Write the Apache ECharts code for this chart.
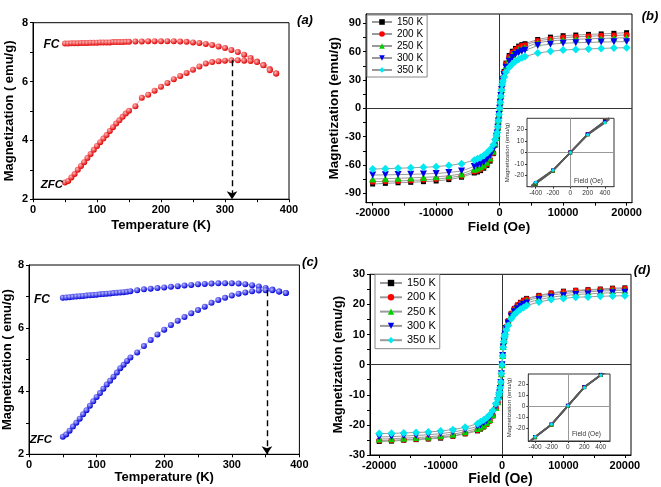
<!DOCTYPE html>
<html><head><meta charset="utf-8">
<script src="https://cdn.jsdelivr.net/npm/echarts@6/dist/echarts.min.js"></script>
<style>html,body{margin:0;padding:0;background:#fff}#c{width:661px;height:487px}</style>
</head><body><div id="c"></div>
<script>
// ---------- data ----------
const temps = [50,55,60,65,70,75,80,85,90,95,100,105,110,115,120,125,130,135,140,145,150,160,170,180,190,200,210,220,230,240,250,260,270,280,290,300,310,320,330,340,350,360,370,380];
const zfcA = [2.57,2.62,2.74,2.86,3.00,3.13,3.26,3.40,3.54,3.68,3.81,3.94,4.06,4.18,4.32,4.45,4.57,4.68,4.80,4.91,5.01,5.16,5.45,5.55,5.69,5.82,5.95,6.08,6.19,6.29,6.40,6.51,6.61,6.66,6.69,6.71,6.72,6.72,6.71,6.70,6.66,6.55,6.38,6.27];
const fcA  = [7.29,7.29,7.30,7.30,7.30,7.31,7.31,7.31,7.32,7.32,7.32,7.33,7.33,7.33,7.33,7.34,7.34,7.34,7.34,7.35,7.35,7.36,7.36,7.37,7.37,7.37,7.37,7.37,7.36,7.35,7.33,7.31,7.28,7.24,7.19,7.14,7.07,7.00,6.91,6.80,6.68,6.56,6.43,6.27];
const zfcC = [2.56,2.63,2.75,2.88,3.00,3.13,3.27,3.40,3.54,3.68,3.82,3.94,4.08,4.21,4.33,4.46,4.59,4.73,4.84,4.96,5.07,5.23,5.43,5.62,5.80,5.95,6.10,6.23,6.35,6.47,6.57,6.68,6.80,6.89,6.96,7.03,7.09,7.13,7.17,7.19,7.20,7.20,7.16,7.11];
const fcC  = [6.96,6.97,6.98,6.99,7.00,7.01,7.02,7.03,7.04,7.05,7.06,7.07,7.08,7.09,7.10,7.11,7.12,7.13,7.14,7.15,7.17,7.20,7.23,7.25,7.27,7.29,7.31,7.33,7.35,7.37,7.39,7.40,7.41,7.42,7.42,7.42,7.41,7.39,7.36,7.32,7.27,7.22,7.16,7.11];
const peakA = [311, 6.72];
const peakC = [352, 7.20];

const loopNames = ['150 K','200 K','250 K','300 K','350 K'];
const fields = [-20000,-18000,-16000,-14000,-12000,-10000,-8000,-6000,-4000,-3500,-3000,-2500,-2000,-1500,-1000,-700,-500,-400,-300,-200,-100,0,100,200,300,400,500,700,1000,1500,2000,2500,3000,3500,4000,6000,8000,10000,12000,14000,16000,18000,20000];
const b150 = [-80.2,-79.5,-78.9,-78.4,-77.7,-77,-75.5,-73,-68.5,-67.5,-66,-63.5,-60.5,-56,-48,-39,-32,-27,-20.5,-14,-7,0,7,14,20.5,27,32,39,48,56,60.5,63.5,66,67.5,68.5,73,75.5,77,77.7,78.4,78.9,79.5,80.2];
const b200 = [-77.7,-77.3,-77,-76.4,-75.8,-75,-73.5,-71.5,-67,-66,-64.5,-62,-59,-54.5,-47,-38,-31.5,-27,-20.5,-14,-7,0,7,14,20.5,27,31.5,38,47,54.5,59,62,64.5,66,67,71.5,73.5,75,75.8,76.4,77,77.3,77.7];
const b250 = [-74.9,-74.5,-74.1,-73.7,-73.2,-72.5,-71.5,-69.5,-64.5,-63.5,-62,-60,-57,-52.5,-45.5,-37,-31,-26.5,-20,-13.5,-7,0,7,13.5,20,26.5,31,37,45.5,52.5,57,60,62,63.5,64.5,69.5,71.5,72.5,73.2,73.7,74.1,74.5,74.9];
const b300 = [-70.7,-70.5,-70.2,-69.9,-69.5,-69,-68,-66.5,-61.5,-60.5,-59,-57,-54,-50,-43.5,-36,-30,-26,-20,-13.5,-6.5,0,6.5,13.5,20,26,30,36,43.5,50,54,57,59,60.5,61.5,66.5,68,69,69.5,69.9,70.2,70.5,70.7];
const b350 = [-64.3,-64,-63.5,-63,-62.5,-61.8,-60.5,-58.7,-55,-53.5,-52,-50,-47,-43.5,-38.5,-33,-29,-25.5,-19.5,-13,-6.5,0,6.5,13,19.5,25.5,29,33,38.5,43.5,47,50,52,53.5,55,58.7,60.5,61.8,62.5,63,63.5,64,64.3];
const d150 = [-25.5,-25.4,-25.1,-24.9,-24.7,-24.4,-23.8,-23,-22,-21.4,-20.7,-19.8,-18.7,-17,-14.5,-12.5,-10.5,-9.5,-8,-6,-3,0,3,6,8,9.5,10.5,12.5,14.5,17,18.7,19.8,20.7,21.4,22,23,23.8,24.4,24.7,24.9,25.1,25.4,25.5];
const d200 = [-25.2,-25.1,-24.9,-24.7,-24.5,-24.1,-23.6,-22.8,-21.7,-21.2,-20.5,-19.7,-18.6,-17,-14.5,-12.5,-10.5,-9.5,-8,-6,-3,0,3,6,8,9.5,10.5,12.5,14.5,17,18.6,19.7,20.5,21.2,21.7,22.8,23.6,24.1,24.5,24.7,24.9,25.1,25.2];
const d250 = [-24.7,-24.6,-24.4,-24.2,-24.0,-23.6,-23.1,-22.3,-21.2,-20.7,-20.1,-19.3,-18.2,-16.6,-14.2,-12.3,-10.5,-9.5,-8,-6,-3,0,3,6,8,9.5,10.5,12.3,14.2,16.6,18.2,19.3,20.1,20.7,21.2,22.3,23.1,23.6,24.0,24.2,24.4,24.6,24.7];
const d300 = [-24.0,-23.9,-23.7,-23.5,-23.3,-22.9,-22.4,-21.6,-20.5,-20,-19.4,-18.6,-17.6,-16.1,-13.8,-12,-10.3,-9.4,-7.9,-5.9,-3,0,3,5.9,7.9,9.4,10.3,12,13.8,16.1,17.6,18.6,19.4,20,20.5,21.6,22.4,22.9,23.3,23.5,23.7,23.9,24.0];
const d350 = [-22.9,-22.8,-22.7,-22.5,-22.4,-22.0,-21.6,-20.8,-19.6,-19.0,-18.4,-17.6,-16.6,-15.2,-13,-11.5,-10,-9.2,-7.7,-5.8,-2.9,0,2.9,5.8,7.7,9.2,10,11.5,13,15.2,16.6,17.6,18.4,19.0,19.6,20.8,21.6,22.0,22.4,22.5,22.7,22.8,22.9];
const insetFieldsB = [-450,-400,-200,0,200,400,450];
const ib150 = [-30.5,-27.5,-16,0,16,27.5,30.5];
const ib200 = [-30.3,-27.3,-16,0,16,27.3,30.3];
const ib250 = [-30,-27,-15.8,0,15.8,27,30];
const ib300 = [-29.8,-26.8,-15.7,0,15.7,26.8,29.8];
const ib350 = [-29,-26,-15.5,0,15.5,26,29];
const insetFieldsD = [-460,-400,-200,0,200,400,460];
const id150 = [-32.5,-28.6,-17.2,0,17.2,28.2,31];
const id200 = [-32.4,-28.5,-17.1,0,17.1,28.1,30.9];
const id250 = [-32.3,-28.4,-17,0,17,28,30.8];
const id300 = [-32.2,-28.3,-16.9,0,16.9,27.9,30.7];
const id350 = [-32,-28.2,-16.8,0,16.8,27.8,30.5];

const tempLabels = [0,100,200,300,400];
const tempTicks = [0,50,100,150,200,250,300,350,400];
const mLabels = [2,4,6,8];
const mTicks = [2,3,4,5,6,7,8];
const fieldLabels = [-20000,-10000,0,10000,20000];
const fieldTicks = [-20000,-15000,-10000,-5000,0,5000,10000,15000,20000];
const bLabels = [-90,-60,-30,0,30,60,90];
const bTicks = [-90,-75,-60,-45,-30,-15,0,15,30,45,60,75,90];
const dLabels = [-30,-20,-10,0,10,20,30];
const dTicks = [-30,-25,-20,-15,-10,-5,0,5,10,15,20,25,30];
const inXLabels = [-400,-200,0,200,400];
const inYLabels = [-20,-10,0,10,20];

// ---------- style ----------
const FF = '"Liberation Sans", Arial, sans-serif';
const cols = ['#000000','#ff0000','#00d000','#0000f0','#00e8f0'];
const syms = ['rect','circle','triangle','triangle','diamond'];
const rots = [0,0,0,180,0];
const sizes = [5,6,7,7,8];
const zip = (xs, ys) => xs.map((x,i)=>[x, ys[i]]);
const plain = (v) => String(v);

function mainAxis(gi, min, max, labels, ticks, name, gap, nameSize, labSize){
  return {
    type:'value', gridIndex:gi, min:min, max:max,
    name:name, nameLocation:'middle', nameGap:gap,
    nameTextStyle:{fontFamily:FF, fontWeight:'bold', fontSize:nameSize, color:'#000'},
    axisLine:{show:true, onZero:false, lineStyle:{color:'#000', width:1}},
    axisTick:{show:true, inside:false, length:3, customValues:ticks, lineStyle:{color:'#000', width:1}},
    axisLabel:{fontFamily:FF, fontWeight:'bold', fontSize:labSize, color:'#000', margin:5, customValues:labels, formatter:plain},
    splitLine:{show:false}
  };
}
function insetAxis(gi, min, max, labels, name){
  return {
    type:'value', gridIndex:gi, min:min, max:max,
    name:name, nameLocation:'middle', nameGap:14,
    nameTextStyle:{fontFamily:FF, fontSize:6, color:'#333'},
    axisLine:{show:true, onZero:false, lineStyle:{color:'#333', width:1}},
    axisTick:{show:true, inside:false, length:2, customValues:labels, lineStyle:{color:'#333'}},
    axisLabel:{fontFamily:FF, fontSize:6.5, color:'#333', margin:3, customValues:labels, formatter:plain},
    splitLine:{show:false}
  };
}
const sphere = (light, dark) => ({type:'radial', x:0.38, y:0.35, r:0.65, colorStops:[{offset:0, color:light},{offset:1, color:dark}]});
function tSeries(ax, data, light, dark, lineCol, mark){
  const s = {type:'line', xAxisIndex:ax, yAxisIndex:ax, data:data, symbol:'circle', symbolSize:6,
    itemStyle:{color:sphere(light,dark)}, lineStyle:{color:lineCol, width:0.8}, emphasis:{disabled:true}, z:3};
  if (mark) s.markLine = {silent:true, symbol:['none','arrow'], symbolSize:8, label:{show:false},
    lineStyle:{color:'#000', width:1.4, type:[6,4]}, data:[[{coord:mark},{coord:[mark[0], 2]}]]};
  return s;
}
const zeroLines = (col) => ({silent:true, symbol:'none', label:{show:false}, lineStyle:{color:col, width:1, type:'solid'}, data:[{xAxis:0},{yAxis:0}]});

const series = [];
series.push(tSeries(0, zip(temps, fcA), '#ffb8b8', '#e00000', '#f09090'));
series.push(tSeries(0, zip(temps, zfcA), '#ffb8b8', '#e00000', '#f09090', peakA));
series.push(tSeries(2, zip(temps, fcC), '#b8b8ff', '#0000d8', '#9090f0'));
series.push(tSeries(2, zip(temps, zfcC), '#b8b8ff', '#0000d8', '#9090f0', peakC));
const bSets = [b150,b200,b250,b300,b350];
const dSets = [d150,d200,d250,d300,d350];
const ibSets = [ib150,ib200,ib250,ib300,ib350];
const idSets = [id150,id200,id250,id300,id350];
[[1,bSets,fields],[3,dSets,fields]].forEach(([ax, sets, xs]) => {
  sets.forEach((ys, i) => {
    const s = {type:'line', name:loopNames[i], xAxisIndex:ax, yAxisIndex:ax, data:zip(xs, ys),
      symbol:syms[i], symbolRotate:rots[i], symbolSize:sizes[i], showAllSymbol:true,
      itemStyle:{color:cols[i]}, lineStyle:{color:'#9a9a9a', width:1}, emphasis:{disabled:true}, z:3+i};
    if (i===0) s.markLine = zeroLines('#333');
    series.push(s);
  });
});
[[4,ibSets,insetFieldsB],[5,idSets,insetFieldsD]].forEach(([ax, sets, xs]) => {
  sets.forEach((ys, i) => {
    const s = {type:'line', name:'inset'+ax+'_'+i, xAxisIndex:ax, yAxisIndex:ax, data:zip(xs, ys),
      symbol:(v)=> Math.abs(v[0])>420 ? 'none' : syms[i], symbolRotate:rots[i], symbolSize:4, showAllSymbol:true,
      itemStyle:{color:cols[i]}, lineStyle:{color:'#5a5a5a', width:1.6}, emphasis:{disabled:true}, z:10+i};
    if (i===0) s.markLine = zeroLines('#999');
    series.push(s);
  });
});

const legendBase = {orient:'vertical', data:loopNames, backgroundColor:'#fff', borderColor:'#888', borderWidth:1,
  selectedMode:false, textStyle:{fontFamily:FF, color:'#000'}};

const txt = (x, y, t, size, style) => ({type:'text', x:x, y:y, z:100,
  style:{text:t, fontFamily:FF, fontSize:size, fontWeight:style.w||'normal', fontStyle:style.i?'italic':'normal', fill:style.c||'#000', align:'center', verticalAlign:'middle'}});

const option = {
  animation:false,
  backgroundColor:'#fff',
  grid:[
    {left:33, top:22.7, width:256, height:176.5, show:true, borderColor:'#000', borderWidth:1},
    {left:366, top:14, width:266, height:188.7, show:true, borderColor:'#000', borderWidth:1},
    {left:26.7, top:265, width:272.7, height:189.3, show:true, borderColor:'#000', borderWidth:1},
    {left:370, top:274.3, width:261, height:180.7, show:true, borderColor:'#000', borderWidth:1},
    {left:527, top:118.3, width:87, height:68.4, show:true, borderColor:'#333', borderWidth:1, backgroundColor:'#fff', z:5},
    {left:528.3, top:374, width:81.7, height:67, show:true, borderColor:'#333', borderWidth:1, backgroundColor:'#fff', z:5}
  ],
  xAxis:[
    mainAxis(0, 0, 400, tempLabels, tempTicks, 'Temperature (K)', 20, 13, 11),
    mainAxis(1, -21050, 20850, fieldLabels, fieldTicks, 'Field (Oe)', 18, 13.5, 11),
    mainAxis(2, 0, 400, tempLabels, tempTicks, 'Temperature (K)', 16, 13, 11),
    mainAxis(3, -21500, 21000, fieldLabels, fieldTicks, 'Field (Oe)', 14, 14, 11),
    insetAxis(4, -500, 505, inXLabels, ''),
    insetAxis(5, -482, 513, inXLabels, '')
  ],
  yAxis:[
    mainAxis(0, 2, 8, mLabels, mTicks, 'Magnetization ( emu/g)', 17, 13, 11),
    mainAxis(1, -100, 100, bLabels, bTicks, 'Magnetization (emu/g)', 22, 13.5, 11),
    mainAxis(2, 2, 8, mLabels, mTicks, 'Magnetization ( emu/g)', 13, 13, 11),
    mainAxis(3, -30, 30, dLabels, dTicks, 'Magnetization (emu/g)', 24, 13, 11),
    insetAxis(4, -30, 30, inYLabels, 'Magnetization (emu/g)'),
    insetAxis(5, -32, 29, inYLabels, 'Magnetization (emu/g)')
  ],
  legend:[
    Object.assign({}, legendBase, {left:367, top:15, itemGap:2, itemWidth:20, itemHeight:7, padding:[2,4,2,4], textStyle:{fontFamily:FF, fontSize:10, color:'#000'}}),
    Object.assign({}, legendBase, {left:375, top:274.5, itemGap:3.3, itemWidth:22, itemHeight:8, padding:[3,4,3,4], textStyle:{fontFamily:FF, fontSize:11, color:'#000'}})
  ],
  graphic:[
    txt(305, 20, '(a)', 13, {w:'bold', i:true}),
    txt(650, 16, '(b)', 13, {w:'bold', i:true}),
    txt(310, 262, '(c)', 13, {w:'bold', i:true}),
    txt(642, 270, '(d)', 13, {w:'bold', i:true}),
    txt(51.5, 45, 'FC', 12, {w:'bold', i:true}),
    txt(52, 184.5, 'ZFC', 11.5, {w:'bold', i:true}),
    txt(42, 299.5, 'FC', 12, {w:'bold', i:true}),
    txt(41, 440, 'ZFC', 11.5, {w:'bold', i:true}),
    txt(588.5, 181.3, 'Field (Oe)', 6.5, {c:'#333'}),
    txt(586.5, 434, 'Field (Oe)', 6.5, {c:'#333'})
  ],
  series:series
};
const chart = echarts.init(document.getElementById('c'), null, {renderer:'canvas'});
chart.setOption(option);
</script></body></html>
